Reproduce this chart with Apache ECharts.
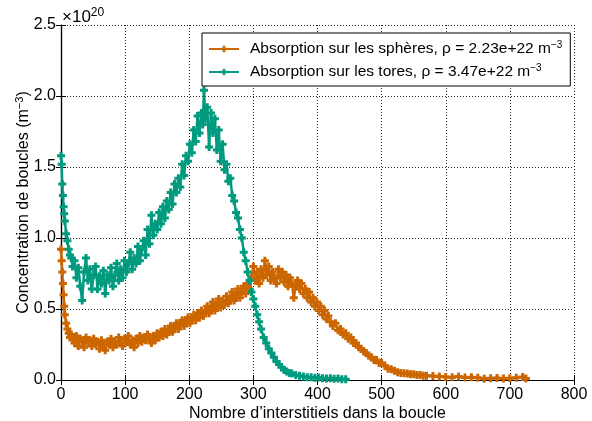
<!DOCTYPE html>
<html>
<head>
<meta charset="utf-8">
<script src="https://cdn.jsdelivr.net/npm/echarts@6/dist/echarts.min.js"></script>
<style>
html,body{margin:0;padding:0;background:#fff;}
#c{width:592px;height:421px;}
</style>
</head>
<body>
<div id="c"></div>
<script>
// ---- data: [loop size n, concentration in units of 1e20 m^-3] ----
var xTicks = [0, 100, 200, 300, 400, 500, 600, 700, 800];
var yTicks = [0.0, 0.5, 1.0, 1.5, 2.0, 2.5];

var sphereData = [
[0,0.92],[1,0.84],[2,0.76],[3,0.68],[4,0.60],[5,0.52],[6,0.46],[8,0.40],[10,0.36],[12,0.33],[14,0.30],[16,0.32],
[18,0.30],[21,0.26],[24,0.31],[27,0.24],[30,0.29],[33,0.27],[36,0.23],[39,0.30],[42,0.26],[45,0.28],[48,0.24],[51,0.29],
[54,0.25],[57,0.27],[60,0.22],[63,0.28],[66,0.24],[69,0.21],[72,0.27],[75,0.25],[78,0.29],[81,0.23],[84,0.27],[87,0.25],
[90,0.30],[93,0.26],[96,0.24],[99,0.29],[102,0.27],[105,0.31],[108,0.25],[111,0.28],[114,0.23],[117,0.29],[120,0.26],
[123,0.31],[126,0.27],[129,0.30],[132,0.28],[135,0.32],[138,0.29],[141,0.26],[144,0.31],[147,0.28],[150,0.33],[153,0.30],
[156,0.34],[159,0.31],[162,0.36],[165,0.32],[168,0.35],[171,0.38],[174,0.34],[177,0.37],[180,0.40],[183,0.36],[186,0.39],
[189,0.42],[192,0.38],[195,0.41],[198,0.44],[201,0.40],[204,0.43],[207,0.46],[210,0.42],[213,0.47],[216,0.44],[219,0.49],
[222,0.45],[225,0.48],[228,0.52],[231,0.47],[234,0.51],[237,0.55],[240,0.49],[243,0.53],[246,0.57],[249,0.51],[252,0.56],
[255,0.53],[258,0.59],[261,0.54],[264,0.58],[267,0.62],[270,0.56],[273,0.60],[276,0.64],[279,0.58],[282,0.62],[285,0.66],
[288,0.61],[291,0.68],[294,0.64],[297,0.72],[300,0.80],[303,0.70],[306,0.76],[309,0.68],[312,0.78],[315,0.72],[318,0.84],
[321,0.74],[324,0.80],[327,0.70],[330,0.76],[333,0.72],[336,0.68],[339,0.78],[342,0.72],[345,0.76],[348,0.69],[351,0.74],
[354,0.66],[357,0.72],[360,0.68],[363,0.58],[366,0.66],[369,0.70],[372,0.64],[375,0.68],[378,0.61],[381,0.64],[384,0.58],
[387,0.62],[390,0.55],[393,0.58],[396,0.52],[399,0.55],[402,0.49],[405,0.52],[408,0.46],[411,0.49],[414,0.43],[417,0.45],
[420,0.41],[424,0.38],[428,0.40],[432,0.35],[436,0.36],[440,0.32],[444,0.33],[448,0.29],[452,0.30],[456,0.26],[460,0.26],
[464,0.23],[468,0.22],[472,0.20],[476,0.19],[480,0.17],[484,0.16],[488,0.14],[492,0.14],[496,0.12],[500,0.12],[505,0.10],
[510,0.08],[515,0.075],[520,0.065],[525,0.055],[530,0.05],[535,0.048],[540,0.045],[545,0.04],[550,0.04],[555,0.035],
[560,0.035],[565,0.03],[570,0.03],[580,0.028],[590,0.025],[600,0.022],[610,0.02],[620,0.025],[630,0.018],[640,0.02],
[650,0.015],[660,0.008],[670,0.012],[680,0.014],[690,0.01],[700,0.012],[710,0.016],[720,0.022],[725,0.01]
];

var toreData = [
[0,1.58],[1,1.52],[2,1.38],[3,1.30],[4,1.22],[5,1.17],[6,1.12],[8,1.03],[10,0.98],[12,0.92],[14,0.88],[16,0.86],
[18,0.80],[21,0.84],[24,0.72],[27,0.79],[30,0.66],[33,0.56],[36,0.76],[39,0.86],[42,0.70],[45,0.78],[48,0.64],[51,0.74],
[54,0.80],[57,0.64],[60,0.73],[63,0.68],[66,0.77],[69,0.61],[72,0.74],[75,0.70],[78,0.79],[81,0.66],[84,0.74],[87,0.82],
[90,0.70],[93,0.78],[96,0.72],[99,0.84],[102,0.76],[105,0.82],[108,0.90],[111,0.78],[114,0.86],[117,0.82],[120,0.94],
[123,0.84],[126,0.92],[129,0.98],[132,0.88],[135,1.06],[138,0.96],[141,1.16],[144,1.02],[147,1.10],[150,1.06],[153,1.18],
[156,1.10],[159,1.22],[162,1.14],[165,1.26],[168,1.20],[171,1.32],[174,1.24],[177,1.38],[180,1.32],[183,1.42],[186,1.36],
[189,1.52],[192,1.44],[195,1.58],[198,1.54],[201,1.66],[204,1.60],[207,1.76],[210,1.68],[213,1.86],[216,1.74],[219,1.88],
[221,1.80],[223,2.04],[225,1.84],[228,1.92],[231,1.64],[234,1.88],[237,1.74],[240,1.84],[243,1.62],[246,1.76],[249,1.54],
[252,1.66],[255,1.48],[258,1.52],[261,1.40],[264,1.42],[267,1.30],[270,1.26],[273,1.18],[276,1.14],[279,1.06],[282,1.00],
[285,0.90],[288,0.84],[291,0.76],[294,0.70],[297,0.62],[300,0.57],[303,0.52],[306,0.46],[309,0.41],[312,0.36],[316,0.30],
[320,0.26],[324,0.22],[328,0.19],[332,0.16],[336,0.13],[340,0.11],[344,0.09],[348,0.07],[352,0.06],[356,0.05],[360,0.045],
[366,0.035],[372,0.03],[378,0.025],[384,0.02],[390,0.02],[396,0.015],[402,0.018],[408,0.012],[414,0.01],[420,0.012],
[426,0.008],[432,0.01],[438,0.006],[444,0.005]
];

var sphereLabel = 'Absorption sur les sphères, ρ = 2.23e+22 m{sup|−3}';
var toreLabel = 'Absorption sur les tores, ρ = 3.47e+22 m{sup|−3}';

var FONT = '"Liberation Sans", Arial, sans-serif';
var PLUS = 'path://M2.5,0H5.5V2.5H8V5.5H5.5V8H2.5V5.5H0V2.5H2.5Z';
var ORANGE = '#cc6600';
var TEAL = '#009a7e';

var chart = echarts.init(document.getElementById('c'), null, {renderer:'canvas'});
var axisCommon = {
  type:'value',
  axisLine:{show:true, lineStyle:{color:'#000', width:1.2}},
  axisTick:{show:true, inside:true, length:5, lineStyle:{color:'#000', width:1}},
  splitLine:{show:false},
  axisLabel:{show:false}
};
var gridLine = {show:true, lineStyle:{type:[1,2], color:'#222', width:1}};
chart.setOption({
  animation:false,
  backgroundColor:'#fff',
  textStyle:{fontFamily:FONT},
  grid:{left:61, right:18, top:25, bottom:41, containLabel:false, outerBoundsMode:'none'},
  legend:{
    left:202, top:33, orient:'vertical',
    itemWidth:30, itemHeight:8, itemGap:6,
    padding:[7,8,6,6],
    backgroundColor:'#fff', borderColor:'#000', borderWidth:1, borderRadius:0,
    data:['sph','tor'],
    formatter:function(n){ return n==='sph' ? sphereLabel : toreLabel; },
    textStyle:{fontFamily:FONT, fontSize:15.5, color:'#000', padding:[0,0,0,6],
      rich:{sup:{fontSize:10, padding:[0,0,8,0], fontFamily:FONT, color:'#000'}}}
  },
  graphic:[{
    type:'text', left:62, top:7,
    style:{text:'×10{s|20}', font:'17px '+FONT, fill:'#000',
      rich:{s:{fontSize:12, padding:[0,0,9,0], fill:'#000', fontFamily:FONT}}}
  }],
  xAxis:[
    echarts.util.merge({
      min:xTicks[0], max:xTicks[xTicks.length-1], interval:100, position:'bottom',
      axisLabel:{show:true, fontSize:16, color:'#000', margin:7, fontFamily:FONT},
      splitLine:gridLine,
      name:'Nombre d’interstitiels dans la boucle', nameLocation:'middle', nameGap:26, nameMoveOverlap:false,
      nameTextStyle:{fontSize:16, color:'#000', fontFamily:FONT}
    }, axisCommon, false),
    echarts.util.merge({min:xTicks[0], max:xTicks[xTicks.length-1], interval:100, position:'top'}, axisCommon, false)
  ],
  yAxis:[
    echarts.util.merge({
      min:yTicks[0], max:yTicks[yTicks.length-1], interval:0.5, position:'left',
      axisLabel:{show:true, fontSize:16, color:'#000', margin:5, fontFamily:FONT,
        formatter:function(v){return v.toFixed(1);}},
      splitLine:gridLine,
      name:'Concentration de boucles (m{sup|−3})', nameLocation:'middle', nameGap:28, nameMoveOverlap:false,
      nameTextStyle:{fontSize:16, color:'#000', fontFamily:FONT,
        rich:{sup:{fontSize:11, padding:[0,0,8,0], color:'#000', fontFamily:FONT}}}
    }, axisCommon, false),
    echarts.util.merge({min:yTicks[0], max:yTicks[yTicks.length-1], interval:0.5, position:'right'}, axisCommon, false)
  ],
  series:[
    {name:'sph', type:'line', data:sphereData, color:ORANGE,
      symbol:PLUS, symbolSize:8, showAllSymbol:true,
      lineStyle:{width:2.5, color:ORANGE}, itemStyle:{color:ORANGE}},
    {name:'tor', type:'line', data:toreData, color:TEAL,
      symbol:PLUS, symbolSize:8, showAllSymbol:true,
      lineStyle:{width:2.5, color:TEAL}, itemStyle:{color:TEAL}}
  ]
});
</script>
</body>
</html>
